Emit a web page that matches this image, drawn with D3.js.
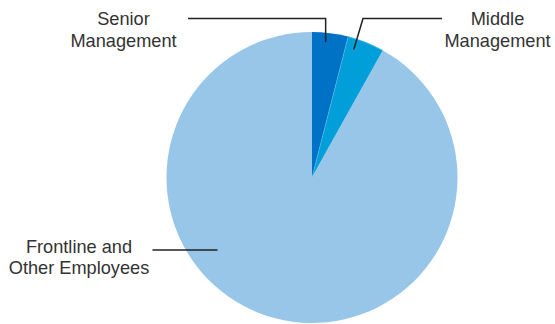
<!DOCTYPE html>
<html>
<head>
<meta charset="utf-8">
<script src="https://cdn.jsdelivr.net/npm/d3@7"></script>
<style>
  html, body { margin: 0; padding: 0; background: #fff; }
  svg { display: block; }
  text { font-family: "Liberation Sans", Arial, Helvetica, sans-serif; fill: #333; }
</style>
</head>
<body>
<svg id="chart" width="555" height="324"></svg>
<script>
// Workforce composition by level
const categories = ["Senior Management", "Middle Management", "Frontline and Other Employees"];
const values = [4, 4.1, 91.9];
const colors = ["#0072c6", "#009fda", "#97c6e8"];
const labelLines = [["Senior", "Management"], ["Middle", "Management"], ["Frontline and", "Other Employees"]];

const svg = d3.select("#chart");
const cx = 312, cy = 177.5, r = 145.5;

const pie = d3.pie().sort(null).value(d => d)(values);
const arc = d3.arc().innerRadius(0).outerRadius(r);

const g = svg.append("g").attr("transform", `translate(${cx},${cy})`);
g.selectAll("path.slice")
  .data(pie)
  .join("path")
  .attr("class", "slice")
  .attr("d", arc)
  .attr("fill", (d, i) => colors[i])
  .attr("stroke", (d, i) => i === 1 ? "#5bb6e4" : "none")
  .attr("stroke-width", 0.6);

// point inside a slice at a given angle fraction and radius fraction
function inside(d, t, rf) {
  const a = d.startAngle + (d.endAngle - d.startAngle) * t;
  return [cx + Math.sin(a) * r * rf, cy - Math.cos(a) * r * rf];
}

const lineStyle = sel => sel.attr("fill", "none").attr("stroke", "#222").attr("stroke-width", 1.5);

// Senior Management leader
const p0 = inside(pie[0], 0.4, 0.935);
svg.append("path").call(lineStyle)
  .attr("d", d3.line()([[188, 18.5], [p0[0], 18.5], p0]));

// Middle Management leader
const p1 = inside(pie[1], 0.25, 0.925);
svg.append("path").call(lineStyle)
  .attr("d", d3.line()([[442, 18.5], [363, 18.5], p1]));

// Frontline leader
svg.append("path").call(lineStyle)
  .attr("d", d3.line()([[152.5, 250], [217.5, 250]]));

const labelPos = [[123.5, 25], [497.5, 25], [79, 252.5]];
labelLines.forEach((lines, i) => {
  const t = svg.append("text")
    .attr("text-anchor", "middle")
    .attr("font-size", 18.2)
    .attr("x", labelPos[i][0])
    .attr("y", labelPos[i][1]);
  lines.forEach((s, j) => {
    t.append("tspan").attr("x", labelPos[i][0]).attr("dy", j === 0 ? 0 : 21.5).text(s);
  });
});
</script>
</body>
</html>
